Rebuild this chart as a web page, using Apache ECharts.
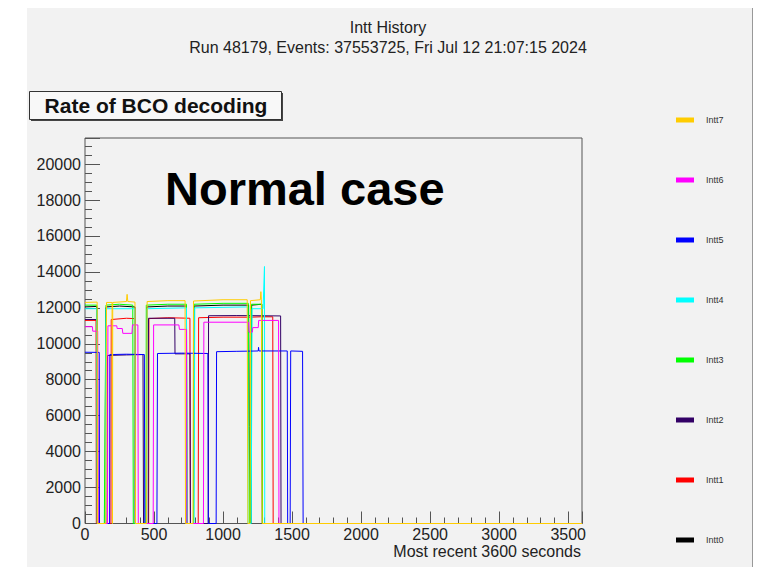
<!DOCTYPE html>
<html>
<head>
<meta charset="utf-8">
<script src="https://cdn.jsdelivr.net/npm/echarts@6/dist/echarts.min.js"></script>
<style>
  html, body { margin: 0; padding: 0; background: #ffffff; }
  #chart { width: 762px; height: 567px; }
</style>
</head>
<body>
<div id="chart"></div>
<script>
// Intt History: rate of BCO decoding per INTT server, [seconds, rate]
var intt0 = [[0,12050],[86,12080],[89,0],[146,0],[150,11900],[155,12050],[250,12100],[362,12050],[365,0],[444,0],[448,12050],[600,12100],[735,12100],[738,0],[786,0],[790,12100],[1000,12150],[1185,12150],[1190,5400],[1195,0],[1203,0],[1207,12150],[1280,12200],[1284,0],[3600,0]];
var intt1 = [[0,11300],[80,11300],[82,0],[188,0],[190,11350],[300,11420],[359,11400],[362,0],[461,0],[463,11400],[600,11450],[760,11420],[763,0],[820,0],[823,11450],[1000,11480],[1200,11480],[1272,11500],[1360,11500],[1363,0],[3600,0]];
var intt2 = [[0,11350],[90,11350],[94,0],[160,0],[163,9350],[300,9380],[420,9400],[424,0],[458,0],[460,11420],[650,11420],[652,9440],[760,9440],[764,0],[893,0],[895,11560],[1100,11570],[1417,11550],[1420,0],[3600,0]];
var intt3 = [[0,12150],[86,12150],[89,0],[140,0],[146,6700],[152,12150],[250,12200],[346,12150],[350,0],[441,0],[444,12150],[600,12200],[735,12200],[740,0],[786,0],[790,12200],[1000,12250],[1183,12250],[1188,5400],[1192,0],[1200,0],[1205,12200],[1282,12200],[1286,0],[3600,0]];
var intt4 = [[0,11950],[86,11950],[89,0],[148,0],[152,11950],[360,11950],[363,0],[446,0],[450,11950],[735,12000],[738,0],[790,0],[795,12000],[1178,12050],[1181,0],[1204,0],[1210,11950],[1290,11950],[1300,14300],[1302,0],[3600,0]];
var intt5 = [[0,9530],[103,9520],[105,0],[178,0],[180,9400],[300,9420],[430,9400],[433,0],[521,0],[525,9460],[700,9480],[890,9460],[893,0],[950,0],[953,9560],[1100,9580],[1255,9600],[1257,9800],[1260,9600],[1465,9600],[1468,0],[1486,0],[1490,9600],[1576,9580],[1580,0],[3600,0]];
var intt6 = [[0,10950],[54,10950],[56,10700],[92,10700],[95,0],[163,0],[166,11000],[230,11000],[233,10850],[270,10850],[274,10580],[340,10580],[344,11050],[383,11050],[386,0],[494,0],[497,11050],[680,11050],[684,10800],[735,10800],[738,0],[858,0],[861,11200],[1185,11200],[1188,10650],[1212,10650],[1215,10900],[1255,10900],[1258,11300],[1402,11300],[1405,0],[3600,0]];
var intt7 = [[0,12300],[88,12320],[91,0],[150,0],[156,12300],[196,12300],[199,0],[201,12300],[300,12350],[305,12750],[310,12350],[362,12320],[366,0],[446,0],[450,12350],[600,12400],[725,12400],[728,0],[782,0],[786,12380],[1000,12450],[1175,12450],[1180,0],[1195,0],[1199,12400],[1270,12450],[1274,12900],[1278,12450],[1283,0],[3600,0]];

var names = ['Intt0', 'Intt1', 'Intt2', 'Intt3', 'Intt4', 'Intt5', 'Intt6', 'Intt7'];
var colors = ['#000000', '#ff0000', '#330066', '#00ff00', '#00ffff', '#0000ff', '#ff00ff', '#ffcc00'];
var seriesData = [intt0, intt1, intt2, intt3, intt4, intt5, intt6, intt7];

var xMax = 3600;
var yMax = 21450;

var font = 'Liberation Sans, Arial, Helvetica, sans-serif';
var ink = '#222222';
var rule = '#555555';

var chart = echarts.init(document.getElementById('chart'), null, { renderer: 'svg' });

var series = names.map(function(n, i) {
  return {
    name: n,
    type: 'line',
    xAxisIndex: 0,
    yAxisIndex: 0,
    data: seriesData[i],
    showSymbol: false,
    symbol: 'none',
    clip: false,
    z: 2 + i,
    lineStyle: { color: colors[i], width: 1 },
    itemStyle: { color: colors[i] },
    emphasis: { disabled: true }
  };
});

chart.setOption({
  animation: false,
  backgroundColor: '#ffffff',
  grid: {
    left: 85, right: 180, top: 138, bottom: 43.5,
    show: true, borderColor: rule, borderWidth: 1, backgroundColor: 'transparent'
  },
  legend: {
    orient: 'vertical',
    left: 671,
    top: 110,
    itemWidth: 18,
    itemHeight: 5,
    itemGap: 50,
    icon: 'rect',
    selectedMode: false,
    textStyle: { fontSize: 9, color: '#333', fontFamily: font, lineHeight: 10, padding: [0, 0, 0, 7] },
    data: ['Intt7', 'Intt6', 'Intt5', 'Intt4', 'Intt3', 'Intt2', 'Intt1', 'Intt0']
  },
  xAxis: [{
    type: 'value', min: 0, max: xMax, interval: 500, position: 'bottom',
    axisLine: { show: false, onZero: false },
    axisTick: { show: true, inside: true, length: 12, lineStyle: { color: rule } },
    axisLabel: {
      color: ink, fontSize: 16, fontFamily: font, margin: 3,
      formatter: function(v) { return v % 500 === 0 ? String(v) : ''; }
    },
    splitLine: { show: false }
  }, {
    type: 'value', min: 0, max: xMax, interval: 100, position: 'bottom',
    axisLine: { show: false, onZero: false },
    axisTick: { show: true, inside: true, length: 6, lineStyle: { color: rule } },
    axisLabel: { show: false },
    splitLine: { show: false }
  }],
  yAxis: [{
    type: 'value', min: 0, max: yMax, interval: 2000, position: 'left',
    axisLine: { show: false, onZero: false },
    axisTick: { show: true, inside: true, length: 15, lineStyle: { color: rule } },
    axisLabel: {
      color: ink, fontSize: 16, fontFamily: font, margin: 4,
      formatter: function(v) { return v % 2000 === 0 ? String(v) : ''; }
    },
    splitLine: { show: false }
  }, {
    type: 'value', min: 0, max: yMax, interval: 500, position: 'left',
    axisLine: { show: false, onZero: false },
    axisTick: { show: true, inside: true, length: 7, lineStyle: { color: rule } },
    axisLabel: { show: false },
    splitLine: { show: false }
  }],
  graphic: [
    // canvas pad
    { type: 'rect', z: -10, shape: { x: 27, y: 8, width: 725, height: 559 }, style: { fill: '#f2f2f2' } },
    { type: 'line', z: -9, shape: { x1: 752.5, y1: 8, x2: 752.5, y2: 567 }, style: { stroke: '#999', lineWidth: 1 } },
    // titles
    { type: 'text', style: { x: 388, y: 27, text: 'Intt History', align: 'center', verticalAlign: 'middle', font: '16px ' + font, fill: ink } },
    { type: 'text', style: { x: 388, y: 47, text: 'Run 48179, Events: 37553725, Fri Jul 12 21:07:15 2024', align: 'center', verticalAlign: 'middle', font: '16px ' + font, fill: ink } },
    // pave with shadow
    { type: 'rect', shape: { x: 31, y: 93, width: 252, height: 28 }, style: { fill: '#444' } },
    { type: 'rect', shape: { x: 29.5, y: 91.5, width: 252, height: 28 }, style: { fill: '#f8f8f8', stroke: '#333', lineWidth: 1 } },
    { type: 'text', style: { x: 156, y: 105, text: 'Rate of BCO decoding', align: 'center', verticalAlign: 'middle', font: 'bold 21px ' + font, fill: '#111' } },
    { type: 'text', style: { x: 165, y: 188, text: 'Normal case', align: 'left', verticalAlign: 'middle', font: 'bold 47px ' + font, fill: '#000' } },
    { type: 'text', style: { x: 581, y: 551, text: 'Most recent 3600 seconds', align: 'right', verticalAlign: 'middle', font: '16px ' + font, fill: ink } }
  ],
  series: series
});
</script>
</body>
</html>
